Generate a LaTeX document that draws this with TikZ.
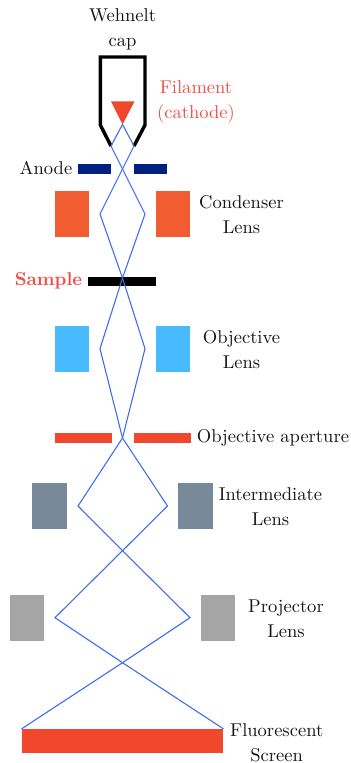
\documentclass[tikz,border=0pt]{standalone}
\usepackage{xcolor}
\usetikzlibrary{arrows.meta,positioning}
\definecolor{cond}{HTML}{F15D30}
\definecolor{obj}{HTML}{47BBFD}
\definecolor{inter}{HTML}{78899A}
\definecolor{proj}{HTML}{A5A5A5}
\definecolor{hot}{HTML}{F0472D}
\definecolor{anod}{HTML}{00207F}
\definecolor{beam}{HTML}{3D6CF0}
\definecolor{txtred}{HTML}{F0504A}
\tikzset{
  lens/.style={inner sep=0pt, minimum width=0.69cm, minimum height=0.92cm},
  plate/.style={inner sep=0pt, minimum height=0.2cm},
  lbl/.style={align=center, text=black!92, font=\fontsize{10.55}{14.2}\selectfont, inner sep=0pt},
  ray/.style={draw=beam, line width=0.62pt, line join=miter}
}
\begin{document}
\begin{tikzpicture}[x=0.02cm,y=-0.02cm]
    \useasboundingbox (0,0) rectangle (351,763);
    % lenses
    \node[lens, fill=cond] (condl) at (72,214) {};
    \node[lens, fill=cond] (condr) at (173,214) {};
    \node[lens, fill=obj] (objl) at (72,348.7) {};
    \node[lens, fill=obj] (objr) at (173,348.7) {};
    \node[lens, fill=inter] (interl) at (49.3,505.7) {};
    \node[lens, fill=inter] (interr) at (195.6,505.7) {};
    \node[lens, fill=proj] (projl) at (27.2,617.5) {};
    \node[lens, fill=proj] (projr) at (218,617.5) {};
    % plates
    \node[plate, fill=anod, minimum width=0.67cm] (anodel) at (94.4,168.7) {};
    \node[plate, fill=anod, minimum width=0.67cm] (anoder) at (150.5,168.7) {};
    \node[plate, fill=black, minimum width=1.37cm, minimum height=0.18cm] (sample) at (122.2,281.2) {};
    \node[plate, fill=hot, minimum width=1.14cm] (apertl) at (83.2,438.2) {};
    \node[plate, fill=hot, minimum width=1.14cm] (apertr) at (162.2,438.2) {};
    \node[plate, fill=hot, minimum width=4.03cm, minimum height=0.48cm] (screen) at (122.5,741.3) {};
    % filament and cap
    \coordinate (tip) at (122.5,124.5);
    \fill[hot] (111,101.5) -- (134.5,101.5) -- (tip) -- cycle;
    \coordinate (capl) at (111,146);
    \coordinate (capr) at (134,146);
    \draw[line width=1.95pt, line join=miter] (capl) -- (100.3,125) -- (100.3,57) -- (145,57) -- (145,125) -- (capr);
    % beam
    \coordinate (x1) at (122.5,169);
    \coordinate (x2) at (122.5,278);
    \coordinate (x3) at (122.5,438);
    \coordinate (x4) at (122.5,550.7);
    \coordinate (x5) at (122.5,662.7);
    \draw[ray] (tip) -- (capl) -- (x1) -- (145,214) -- (x2) -- (145,348.7) -- (x3)
      -- (167.5,506) -- (x4) -- (190,617.7) -- (x5) -- (screen.north west);
    \draw[ray] (tip) -- (capr) -- (x1) -- (100,214) -- (x2) -- (100,348.7) -- (x3)
      -- (78,506) -- (x4) -- (55,617.7) -- (x5) -- (screen.north east);
    % labels
    \node[lbl] (wehnelt) at (122.5,29.7) {Wehnelt\\cap};
    \node[lbl, text=txtred] (filament) at (196,101.5) {Filament\\(cathode)};
    \node[lbl] (anodelbl) at (46,167.5) {Anode};
    \node[lbl] (condlbl) at (241.5,214.5) {Condenser\\Lens};
    \node[lbl, text=txtred, font=\fontsize{10.55}{14.2}\selectfont\bfseries] (samplelbl) at (48.5,281) {Sample};
    \node[lbl] (objlbl) at (241.5,349.7) {Objective\\Lens};
    \node[lbl] (apertlbl) at (273,438) {Objective aperture};
    \node[lbl] (interlbl) at (270.5,506.5) {Intermediate\\Lens};
    \node[lbl] (projlbl) at (286,618.5) {Projector\\Lens};
    \node[lbl] (screenlbl) at (276.7,742.5) {Fluorescent\\Screen};
\end{tikzpicture}
\end{document}
